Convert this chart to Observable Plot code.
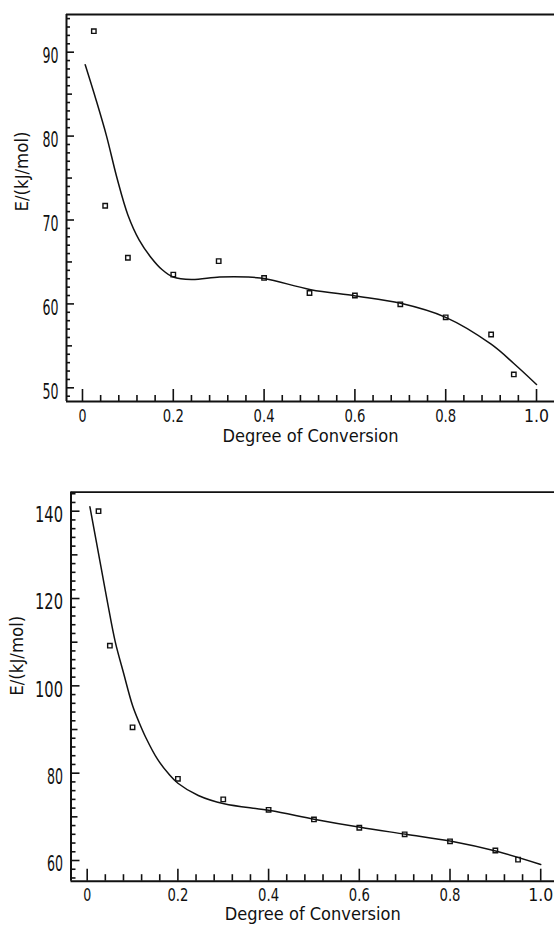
<!DOCTYPE html>
<html><head><meta charset="utf-8">
<script src="https://cdn.jsdelivr.net/npm/d3@7"></script>
<script src="https://cdn.jsdelivr.net/npm/@observablehq/plot@0.6"></script>
<style>
html,body{margin:0;padding:0;background:#fff;}
svg{display:block;}
</style></head><body><div id="chart"></div>
<script>
// ---- data ----
const conversion = [0.025, 0.05, 0.1, 0.2, 0.3, 0.4, 0.5, 0.6, 0.7, 0.8, 0.9, 0.95];
const energyTop = [92.5, 71.7, 65.5, 63.5, 65.1, 63.1, 61.3, 61.0, 59.95, 58.4, 56.35, 51.6];
const energyBottom = [140.0, 109.2, 90.5, 78.7, 74.0, 71.6, 69.4, 67.5, 66.0, 64.4, 62.3, 60.2];

const fitTopX = [0.006, 0.03, 0.053, 0.076, 0.1, 0.125, 0.15, 0.175, 0.2, 0.24, 0.302, 0.364, 0.403, 0.503, 0.601, 0.701, 0.8, 0.9, 0.95, 1.0];
const fitTopY = [88.5, 84.3, 80.0, 75.0, 70.6, 67.6, 65.6, 64.1, 63.2, 62.9, 63.2, 63.2, 63.0, 61.7, 60.95, 60.07, 58.4, 55.2, 52.9, 50.4];
const fitBottomX = [0.006, 0.03, 0.045, 0.062, 0.08, 0.1, 0.115, 0.13, 0.155, 0.18, 0.2, 0.245, 0.302, 0.403, 0.503, 0.602, 0.703, 0.803, 0.903, 1.0];
const fitBottomY = [141.0, 127.5, 119.0, 110.0, 103.0, 95.5, 91.5, 88.0, 83.2, 79.8, 77.7, 74.9, 73.0, 71.45, 69.4, 67.6, 66.0, 64.4, 62.1, 59.1];

const xTickValues = [0, 0.2, 0.4, 0.6, 0.8, 1.0];
const xTickLabels = ["0", "0.2", "0.4", "0.6", "0.8", "1.0"];
const topYTicks = [50, 60, 70, 80, 90];
const bottomYTicks = [60, 80, 100, 120, 140];
const xTitle = "Degree of Conversion";
const yTitle = "E/(kJ/mol)";

const FONT = '"Liberation Sans Narrow", "DejaVu Sans Condensed", "Arial Narrow", sans-serif';
const INK = "#111";

const xMinorAll = d3.range(0, 26).map(i => +(i * 0.04).toFixed(2));
const xMajor = xMinorAll.filter((d, i) => i % 5 === 0);
const xMinor = xMinorAll.filter((d, i) => i % 5 !== 0);

// visual widths of the narrow plotter lettering
function squeezeWidth(s) {
  if (s === xTitle) return 176;
  if (s === yTitle) return 80;
  if (s === "0") return 8;
  if (s === "1.0") return 25;
  if (xTickLabels.includes(s)) return 21;
  if (s.length === 3) return 28;
  if (s.length === 2) return 16;
  return null;
}

function panel(cfg) {
  const [x0] = cfg.xDomain;
  const [y0, y1] = cfg.yDomain;
  const pts = conversion.map((x, i) => ({x, y: cfg.energy[i]}));
  const fit = cfg.fitX.map((x, i) => ({x, y: cfg.fitY[i]}));
  const yAll = d3.range(Math.ceil(y0), y1, cfg.yStep);
  const yMaj = yAll.filter(d => d % cfg.yMajorStep === 0);
  const yMid = yAll.filter(d => d % cfg.yMajorStep !== 0 && d % (cfg.yMajorStep / 2) === 0);
  const yMin = yAll.filter(d => d % (cfg.yMajorStep / 2) !== 0);
  const rule = {stroke: INK, strokeWidth: 1.6};
  const svg = Plot.plot({
    width: 554,
    height: cfg.height,
    marginTop: cfg.marginTop,
    marginBottom: cfg.marginBottom,
    marginLeft: cfg.marginLeft,
    marginRight: 0,
    x: {domain: cfg.xDomain, axis: null},
    y: {domain: cfg.yDomain, axis: null},
    style: {fontFamily: FONT, color: INK, background: "#fff", overflow: "visible"},
    marks: [
      Plot.ruleY([y1], {stroke: INK, strokeWidth: 1.8}),
      Plot.ruleY([y0], {stroke: INK, strokeWidth: 2}),
      Plot.ruleX([x0], {stroke: INK, strokeWidth: 2}),
      Plot.ruleX(xMinor, {x: d => d, y1: y0, y2: y0, insetTop: -cfg.xMinorLen, ...rule}),
      Plot.ruleX(xMajor, {x: d => d, y1: y0, y2: y0, insetTop: -cfg.xMajorLen, ...rule}),
      Plot.ruleY(yMin, {y: d => d, x1: x0, x2: x0, insetRight: -cfg.yMinorLen, ...rule}),
      Plot.ruleY(yMid, {y: d => d, x1: x0, x2: x0, insetRight: -cfg.yMidLen, ...rule}),
      Plot.ruleY(yMaj, {y: d => d, x1: x0, x2: x0, insetRight: -cfg.yMajorLen, ...rule}),
      Plot.line(fit, {x: "x", y: "y", curve: "catmull-rom", stroke: INK, strokeWidth: 1.5}),
      Plot.dot(pts, {x: "x", y: "y", symbol: "square", r: 2.5, stroke: INK, strokeWidth: 1.4, fill: "none"}),
      Plot.text(xTickValues, {x: d => d, text: (d, i) => xTickLabels[i], frameAnchor: "bottom", dy: cfg.xLabelDy, fontSize: 17.5, fill: INK}),
      Plot.text(cfg.yTicks, {y: d => d, text: d => String(d), frameAnchor: "left", dx: -8, dy: 4, textAnchor: "end", fontSize: 21, fill: INK}),
      Plot.text([xTitle], {text: d => d, frameAnchor: "bottom", dy: cfg.xTitleDy, fontSize: 17, fill: INK}),
      Plot.text([yTitle], {text: d => d, frameAnchor: "left", dx: cfg.yTitleDx, dy: cfg.yTitleDy, rotate: -90, fontSize: 17, fill: INK})
    ]
  });
  svg.querySelectorAll("text").forEach(t => {
    const w = squeezeWidth(t.textContent);
    if (w) {
      t.setAttribute("textLength", w);
      t.setAttribute("lengthAdjust", "spacingAndGlyphs");
    }
  });
  return svg;
}

const root = document.getElementById("chart");
root.appendChild(panel({
  energy: energyTop, fitX: fitTopX, fitY: fitTopY, yTicks: topYTicks,
  height: 460, marginTop: 14, marginBottom: 59, marginLeft: 66,
  xDomain: [-0.0352, 1.0396], yDomain: [48.37, 94.49],
  yStep: 1, yMajorStep: 10,
  xMinorLen: 6, xMajorLen: 12, yMinorLen: 4, yMidLen: 6, yMajorLen: 8,
  xLabelDy: 20, xTitleDy: 40, yTitleDx: -44, yTitleDy: 3.5
}));
root.appendChild(panel({
  energy: energyBottom, fitX: fitBottomX, fitY: fitBottomY, yTicks: bottomYTicks,
  height: 473, marginTop: 31.7, marginBottom: 52.3, marginLeft: 70.5,
  xDomain: [-0.0357, 1.0304], yDomain: [55.26, 144.35],
  yStep: 2, yMajorStep: 20,
  xMinorLen: 6.5, xMajorLen: 12, yMinorLen: 5, yMidLen: 7, yMajorLen: 9,
  xLabelDy: 19.5, xTitleDy: 39, yTitleDx: -53, yTitleDy: 9
}));
</script>
</body></html>
